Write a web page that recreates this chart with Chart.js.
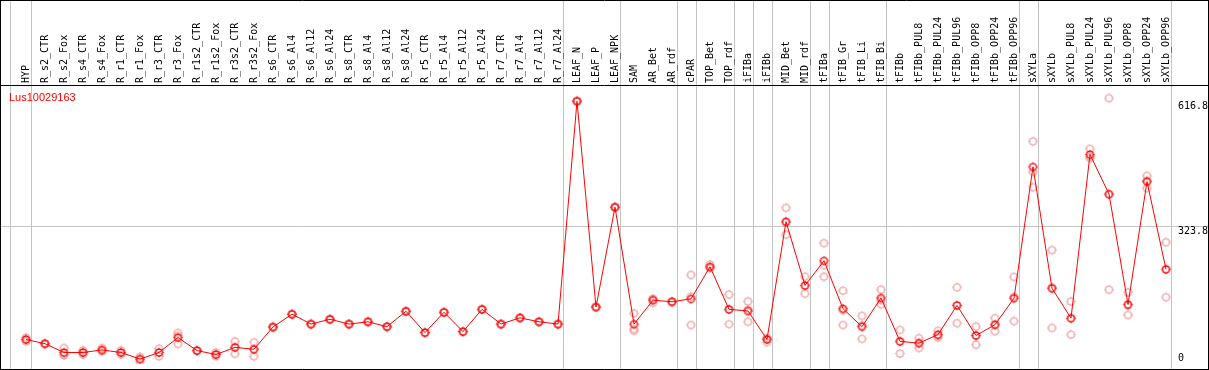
<!DOCTYPE html>
<html><head><meta charset="utf-8">
<script src="https://cdn.jsdelivr.net/npm/chart.js@4.4.1/dist/chart.umd.min.js"></script>
<style>html,body{margin:0;padding:0;background:#fff;overflow:hidden;}#wrap{width:1209px;height:370px;}</style>
</head><body><div id="wrap"><canvas id="c" width="1209" height="370"></canvas></div>
<script>
const categories = ['HYP','R_s2_CTR','R_s2_Fox','R_s4_CTR','R_s4_Fox','R_r1_CTR','R_r1_Fox','R_r3_CTR','R_r3_Fox','R_r1s2_CTR','R_r1s2_Fox','R_r3s2_CTR','R_r3s2_Fox','R_s6_CTR','R_s6_Al4','R_s6_Al12','R_s6_Al24','R_s8_CTR','R_s8_Al4','R_s8_Al12','R_s8_Al24','R_r5_CTR','R_r5_Al4','R_r5_Al12','R_r5_Al24','R_r7_CTR','R_r7_Al4','R_r7_Al12','R_r7_Al24','LEAF_N','LEAF_P','LEAF_NPK','SAM','AR_Bet','AR_rdf','cPAR','TOP_Bet','TOP_rdf','iFIBa','iFIBb','MID_Bet','MID_rdf','tFIBa','tFIB_Gr','tFIB_Li','tFIB_Bi','tFIBb','tFIBb_PUL8','tFIBb_PUL24','tFIBb_PUL96','tFIBb_OPP8','tFIBb_OPP24','tFIBb_OPP96','sXYLa','sXYLb','sXYLb_PUL8','sXYLb_PUL24','sXYLb_PUL96','sXYLb_OPP8','sXYLb_OPP24','sXYLb_OPP96'];
const meanValues = [57.6,47.6,27,27,33,27,11.5,27,62,31.5,22.3,39,34.6,86.8,116.8,93.7,105,93.7,99,87.6,123.7,73.7,121.4,76,128.3,93.7,108.3,99,93.7,616.8,133.7,368,93.7,149.8,146,152.8,228,128.3,124.4,57.6,334,184.4,242,129.8,87.6,155,53,49,69,137.6,66.8,92.2,154.4,462.5,177.5,107.6,491.6,398.7,139.8,428,222];
const rep1 = [62,48,37.6,32,37.6,32,17,36,73,31.5,27,53,51,86.8,116.8,93.7,105,93.7,99,87.6,123.7,73.7,121.4,76,128.3,93.7,108.3,99,93.7,616.8,133.7,368,119,143.6,146,209,233.5,163,146.8,51.4,366.4,205,283.5,172,113,174.4,80,60.6,78,179.8,87.6,107.6,204.4,522.4,267.3,146.8,504.7,623.8,168,441.8,285.8];
const rep2 = [53,47,20,22,30,22,5,18,47,31.5,18,24,18,86.8,116.8,93.7,105,93.7,99,87.6,123.7,73.7,121.4,76,128.3,93.7,108.3,99,93.7,616.8,133.7,368,82,152,146,91.4,225,93.7,99,60,303.5,165,205,91.4,59,140,24.6,37.6,62,96,45.4,76.7,100.7,451,84.6,69,483,174.4,115,412.5,156.7];
const rep3 = [58,48,23,27,31,27,12,27,66,31.5,22,40,35,86.8,116.8,93.7,105,93.7,99,87.6,123.7,73.7,121.4,76,128.3,93.7,108.3,99,93.7,616.8,133.7,368,78,153,146,158,226,128,127,61,332,183,232,126,91,150,54,49,67,137,67,92,158,414.8,180,107,487,398,137,430,223];
const yTickValues = [616.8, 323.8, 0];
const yTickLabels = ['616.8', '323.8', '0'];
const gridValue = 323.8;
const yMax = 647.6;
const geneName = 'Lus10029163';
const groupEnds = ['HYP','R_r7_Al24','LEAF_NPK','AR_rdf','cPAR','TOP_rdf','iFIBa','iFIBb','MID_rdf','tFIBa','tFIB_Bi','tFIBb_OPP96','sXYLa','sXYLb_OPP96'];

function makeMarker(color, lw) {
  const c = document.createElement('canvas');
  c.width = 13; c.height = 13;
  const g = c.getContext('2d');
  g.strokeStyle = color; g.lineWidth = lw;
  g.beginPath(); g.arc(6.5, 6.5, 3.5, 0, Math.PI * 2); g.stroke();
  g.lineWidth = 1;
  g.beginPath();
  g.moveTo(6.5, 1.8); g.lineTo(6.5, 3); g.moveTo(6.5, 10); g.lineTo(6.5, 11.2);
  g.moveTo(1.8, 6.5); g.lineTo(3, 6.5); g.moveTo(10, 6.5); g.lineTo(11.2, 6.5);
  g.stroke();
  return c;
}
const meanMarker = makeMarker('#ff0000', 1.25);
const repMarker = makeMarker('#ef9a9a', 1.2);

const decor = {
  id: 'decor',
  beforeDraw(chart) {
    const ctx = chart.ctx, x = chart.scales.x, y = chart.scales.y;
    const W = chart.width, H = chart.height;
    ctx.save();
    ctx.strokeStyle = '#c4c4c4'; ctx.lineWidth = 1;
    ctx.beginPath();
    const x0 = Math.round(x.getPixelForValue(0) - 16) + 0.5;
    ctx.moveTo(x0, 0); ctx.lineTo(x0, H);
    groupEnds.forEach(name => {
      const px = Math.round(x.getPixelForValue(categories.indexOf(name)) + 4.5) + 0.5;
      ctx.moveTo(px, 0); ctx.lineTo(px, H);
    });
    const gy = Math.round(y.getPixelForValue(gridValue)) + 0.5;
    ctx.moveTo(1, gy); ctx.lineTo(W - 1, gy);
    ctx.stroke();
    ctx.restore();
  },
  afterDraw(chart) {
    const ctx = chart.ctx, y = chart.scales.y;
    const W = chart.width, H = chart.height;
    ctx.save();
    ctx.strokeStyle = '#000'; ctx.lineWidth = 1;
    ctx.beginPath();
    ctx.moveTo(0, 0.5); ctx.lineTo(W, 0.5);
    ctx.moveTo(0, 85.5); ctx.lineTo(W, 85.5);
    ctx.moveTo(0, H - 0.5); ctx.lineTo(W, H - 0.5);
    ctx.moveTo(0.5, 0); ctx.lineTo(0.5, H);
    ctx.moveTo(W - 0.5, 0); ctx.lineTo(W - 0.5, H);
    ctx.stroke();
    ctx.fillStyle = '#000';
    ctx.font = '10px "DejaVu Sans Mono"';
    ctx.textAlign = 'left';
    yTickValues.forEach((v, i) => {
      const py = y.getPixelForValue(v);
      if (v === 0) { ctx.textBaseline = 'bottom'; ctx.fillText(yTickLabels[i], 1178, py - 1); }
      else { ctx.textBaseline = 'top'; ctx.fillText(yTickLabels[i], 1178, py); }
    });
    ctx.fillStyle = '#ff0000';
    ctx.font = '11px "Liberation Sans"';
    ctx.textBaseline = 'alphabetic';
    ctx.fillText(geneName, 9, 101);
    ctx.restore();
  }
};

const repDs = (d) => ({ data: d, showLine: false, pointStyle: repMarker, pointRadius: 5, borderColor: '#ef9a9a', backgroundColor: 'transparent', order: 2 });

new Chart(document.getElementById('c'), {
  type: 'line',
  data: {
    labels: categories,
    datasets: [
      { data: meanValues, borderColor: '#ff0000', borderWidth: 1, tension: 0, pointStyle: meanMarker, pointRadius: 5, backgroundColor: 'transparent', order: 0 },
      repDs(rep1), repDs(rep2), repDs(rep3)
    ]
  },
  options: {
    responsive: false, animation: false, devicePixelRatio: 1,
    layout: { padding: { left: 26, right: 43, top: 0, bottom: 1 } },
    plugins: { legend: { display: false }, tooltip: { enabled: false }, title: { display: false } },
    scales: {
      x: {
        type: 'category', position: 'top', offset: false,
        grid: { display: false, drawTicks: false }, border: { display: false },
        ticks: { autoSkip: false, maxRotation: 90, minRotation: 90, padding: 5, labelOffset: 12, color: '#000', font: { family: 'DejaVu Sans Mono', size: 10 } },
        afterFit(scale) { scale.height = 88; }
      },
      y: { display: false, min: 0, max: yMax }
    }
  },
  plugins: [decor]
});
</script>
</body></html>
